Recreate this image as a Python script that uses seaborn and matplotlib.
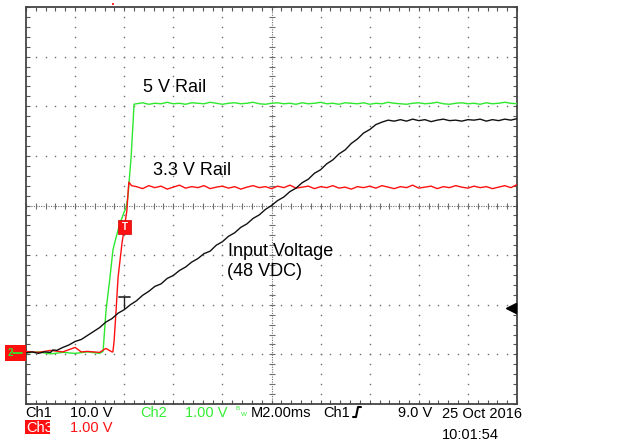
import numpy as np
import pandas as pd
import seaborn as sns
import matplotlib
matplotlib.use("Agg")
import matplotlib.pyplot as plt
from matplotlib.lines import Line2D
from matplotlib.patches import Rectangle

# ---------------- data (time in ms, values in volts) ----------------
FLAT_T = [-5.5, -5.25, -5.0, -4.75, -4.5, -4.25, -4.0, -3.75, -3.5,
          -3.25, -3.0, -2.75, -2.5, -2.25, -2.0, -1.75, -1.5, -1.25,
          -1.0, -0.75, -0.5, -0.25, 0.0, 0.25, 0.5, 0.75, 1.0,
          1.25, 1.5, 1.75, 2.0, 2.25, 2.5, 2.75, 3.0, 3.25,
          3.5, 3.75, 4.0, 4.25, 4.5, 4.75, 5.0, 5.25, 5.5,
          5.75, 6.0, 6.25, 6.5, 6.75, 7.0, 7.25, 7.5, 7.75,
          8.0, 8.25, 8.5, 8.75, 9.0, 9.25, 9.5, 9.75, 10.0]

# Ch2 (green, 5 V rail)
G_RISE_T = [-10.0, -9.5, -9.0, -8.5, -8.0, -7.5, -7.0, -6.86, -6.74, -6.58,
            -6.46, -6.33, -6.17, -6.01, -5.93, -5.85, -5.72, -5.64, -5.6]
G_RISE_V = [0.03, 0.05, 0.01, 0.04, 0.02, 0.05, 0.02, 0.06, 0.89, 1.55,
            2.10, 2.36, 2.64, 2.86, 2.94, 3.17, 3.97, 4.66, 5.04]
G_FLAT_V = [5.05, 5.07, 5.04, 5.06, 5.05, 5.08, 5.05, 5.06, 5.04,
            5.07, 5.06, 5.05, 5.08, 5.06, 5.04, 5.06, 5.07, 5.05,
            5.06, 5.08, 5.05, 5.04, 5.06, 5.07, 5.05, 5.06, 5.04,
            5.07, 5.05, 5.06, 5.08, 5.05, 5.06, 5.04, 5.07, 5.06,
            5.05, 5.07, 5.04, 5.06, 5.05, 5.08, 5.06, 5.05, 5.04,
            5.06, 5.07, 5.05, 5.06, 5.08, 5.05, 5.04, 5.06, 5.07,
            5.05, 5.06, 5.04, 5.07, 5.05, 5.06, 5.08, 5.06, 5.05]

# Ch3 (red, 3.3 V rail)
R_RISE_T = [-10.0, -9.5, -9.0, -8.5, -8.0, -7.75, -7.5, -7.0, -6.75, -6.5,
            -6.46, -6.41, -6.33, -6.25, -6.09, -5.89, -5.85, -5.81, -5.7]
R_RISE_V = [0.06, 0.04, 0.08, 0.05, 0.14, 0.05, 0.06, 0.04, 0.12, 0.05,
            0.05, 0.28, 0.89, 1.55, 2.24, 2.90, 3.21, 3.47, 3.40]
R_FLAT_V = [3.38, 3.34, 3.40, 3.36, 3.39, 3.33, 3.37, 3.41, 3.35,
            3.38, 3.36, 3.40, 3.34, 3.37, 3.39, 3.35, 3.38, 3.33,
            3.37, 3.40, 3.36, 3.38, 3.34, 3.39, 3.36, 3.41, 3.35,
            3.37, 3.39, 3.34, 3.38, 3.36, 3.40, 3.35, 3.37, 3.33,
            3.38, 3.36, 3.39, 3.35, 3.40, 3.37, 3.34, 3.38, 3.36,
            3.41, 3.35, 3.37, 3.39, 3.34, 3.38, 3.36, 3.40, 3.37,
            3.35, 3.39, 3.36, 3.38, 3.34, 3.37, 3.40, 3.36, 3.42]

# Ch1 (black, input voltage)
B_T = [-10.0, -9.75, -9.5, -9.25, -9.0, -8.9, -8.75, -8.5, -8.25, -8.0,
       -7.75, -7.5, -7.25, -7.0, -6.75, -6.5, -6.25, -6.0, -5.75, -5.5,
       -5.25, -5.0, -4.75, -4.5, -4.25, -4.0, -3.75, -3.5, -3.25, -3.0,
       -2.75, -2.5, -2.25, -2.0, -1.75, -1.5, -1.25, -1.0, -0.75, -0.5,
       -0.25, 0.0, 0.25, 0.5, 0.75, 1.0, 1.25, 1.5, 1.75, 2.0,
       2.25, 2.5, 2.75, 3.0, 3.25, 3.5, 3.75, 4.0, 4.25, 4.5,
       4.75, 5.0, 5.25, 5.5, 5.75, 6.0, 6.25, 6.5, 6.75, 7.0,
       7.25, 7.5, 7.75, 8.0, 8.25, 8.5, 8.75, 9.0, 9.25, 9.5,
       9.75, 10.0]
B_V = [0.3, 0.5, 0.2, 0.5, 0.4, 0.9, 0.8, 1.4, 1.9, 2.6,
       3.0, 3.8, 4.6, 5.4, 6.5, 7.2, 8.3, 9.0, 10.0, 10.8,
       11.9, 12.7, 13.7, 14.2, 15.3, 15.9, 16.9, 17.6, 18.6, 19.3,
       20.3, 20.8, 22.0, 22.7, 23.8, 24.5, 25.6, 26.3, 27.4, 28.1,
       29.2, 30.0, 31.0, 31.7, 32.8, 33.5, 34.6, 35.3, 36.5, 37.2,
       38.4, 39.2, 40.4, 41.2, 42.5, 43.4, 44.6, 45.3, 46.3, 46.8,
       47.2, 47.0, 47.3, 47.0, 47.4, 47.1, 47.3, 46.9, 47.2, 47.4,
       47.1, 47.2, 47.0, 47.3, 47.2, 47.4, 47.0, 47.3, 47.1, 47.4,
       47.2, 47.5]

TIME_PER_DIV = 2.0            # ms/div
SCALES = {"Ch1": 10.0, "Ch2": 1.0, "Ch3": 1.0}   # V/div
GROUND_DIV = -3.0
TRIG_LEVEL = 9.0              # V on Ch1
TRIG_MARK_T = -6.0            # ms

CH_COLORS = {"Ch1": "#111111", "Ch2": "#2ee82e", "Ch3": "#ff1010"}

# ---------------- build long table ----------------
rows = []
def add(ch, ts, vs):
    assert len(ts) == len(vs)
    for t, v in zip(ts, vs):
        rows.append({"ch": ch, "x": t / TIME_PER_DIV, "y": v / SCALES[ch] + GROUND_DIV})

add("Ch2", G_RISE_T + FLAT_T, G_RISE_V + G_FLAT_V)
add("Ch3", R_RISE_T + FLAT_T, R_RISE_V + R_FLAT_V)
add("Ch1", B_T, B_V)
df = pd.DataFrame(rows)

# ---------------- figure ----------------
sns.set_theme(style="white")
plt.rcParams["font.family"] = ["Liberation Sans", "DejaVu Sans"]

W, H = 621, 441
fig = plt.figure(figsize=(W / 100, H / 100), dpi=100)
fig.patch.set_facecolor("white")
ax = fig.add_axes([26 / W, (H - 404) / H, 491 / W, 397 / H])
ax.set_facecolor("white")

GRID = "#6e6e6e"
# dotted graticule
minor_x = np.round(np.arange(-5, 5.0001, 0.2), 3)
minor_y = np.round(np.arange(-4, 4.0001, 0.2), 3)
for xv in range(-4, 5):
    if xv == 0:
        continue
    ax.plot(np.full_like(minor_y, xv), minor_y, ls="none", marker="s", ms=1.0,
            mew=0, color=GRID, zorder=1)
for yv in range(-3, 4):
    if yv == 0:
        continue
    ax.plot(minor_x, np.full_like(minor_x, yv), ls="none", marker="s", ms=1.0,
            mew=0, color=GRID, zorder=1)
# centre cross with ticks
ax.plot([-5, 5], [0, 0], ls=(0, (1, 1.2)), lw=0.8, color=GRID, zorder=1)
ax.plot([0, 0], [-4, 4], ls=(0, (1, 1.2)), lw=0.8, color=GRID, zorder=1)
ax.plot(minor_x, np.zeros_like(minor_x), ls="none", marker="|", ms=4, mew=0.8,
        color=GRID, zorder=1)
ax.plot(np.zeros_like(minor_y), minor_y, ls="none", marker="_", ms=4, mew=0.8,
        color=GRID, zorder=1)

# traces
sns.lineplot(data=df, x="x", y="y", hue="ch", hue_order=["Ch2", "Ch3", "Ch1"],
             palette=CH_COLORS, estimator=None, sort=False, legend=False,
             linewidth=1.0, ax=ax, zorder=3)

ax.set_xlim(-5, 5)
ax.set_ylim(-4, 4)
ax.set_xlabel("")
ax.set_ylabel("")
ax.set_xticks(minor_x)
ax.set_yticks(minor_y)
ax.tick_params(direction="in", length=3, width=0.8, color="#555555",
               bottom=True, top=True, left=True, right=True,
               labelbottom=False, labelleft=False)
for s in ax.spines.values():
    s.set_color("#444444")
    s.set_linewidth(1.3)

# trigger marker "I" on Ch1 and trigger level arrow
trig_y = TRIG_LEVEL / SCALES["Ch1"] + GROUND_DIV
tx = TRIG_MARK_T / TIME_PER_DIV
ax.plot([tx, tx], [trig_y + 0.03, trig_y + 0.25], color="#222222", lw=1.0, zorder=4)
ax.plot([tx - 0.11, tx + 0.11], [trig_y + 0.25, trig_y + 0.25], color="#222222", lw=1.2, zorder=4)
ax.plot([4.87], [trig_y + 0.03], marker="<", ms=7, color="black", clip_on=False, zorder=5)

# Ch3 marker box on red trace
ax.add_patch(Rectangle((-3.13, -0.57), 0.27, 0.27, facecolor="#ff1010",
                       edgecolor="#cc0000", lw=0.5, zorder=5))
ax.text(-2.995, -0.44, "T", color="white", fontsize=7, ha="center", va="center",
        fontweight="bold", zorder=6)
# small red dot on top
ax.plot([-3.23], [4.06], marker="s", ms=1.5, color="#ff3030", mew=0, clip_on=False)

# ground markers on the left
def px(x, y):
    return x / W, 1 - y / H

fig.patches.append(Rectangle(px(5, 361), 21 / W, 16 / H, facecolor="#ff1010",
                             edgecolor="none", transform=fig.transFigure, figure=fig))
fig.text(*px(8, 353), "2", color="#2ee82e", fontsize=7, fontweight="bold", va="center")
fig.lines.append(Line2D([13 / W, 22 / W], [1 - 353 / H, 1 - 353 / H], color="#2ee82e",
                        lw=1.3, transform=fig.transFigure, figure=fig))

# annotations
ann_kw = dict(fontsize=13, color="black", va="baseline", ha="left")
fig.text(*px(143, 92), "5 V Rail", **ann_kw)
fig.text(*px(153, 175), "3.3 V Rail", **ann_kw)
fig.text(*px(228, 256), "Input Voltage", **ann_kw)
fig.text(*px(227, 276), "(48 VDC)", **ann_kw)

# status line
sk = dict(fontsize=10.5, va="baseline", ha="left")
GREEN_TXT = "#33ee33"
fig.text(*px(25, 417), "Ch1", color="black", **sk)
fig.text(*px(70, 417), "10.0 V", color="black", **sk)
fig.text(*px(140, 417), "Ch2", color=GREEN_TXT, **sk)
fig.text(*px(185, 417), "1.00 V", color=GREEN_TXT, **sk)
fig.text(*px(235, 410), "B", color=GREEN_TXT, fontsize=4.5, va="baseline")
fig.text(*px(241, 416), "W", color=GREEN_TXT, fontsize=4.5, va="baseline")
fig.text(*px(251, 417), "M2.00ms", color="black", **sk)
fig.text(*px(323, 417), "Ch1", color="black", **sk)
fig.lines.append(Line2D([353 / W, 356 / W, 358 / W, 361 / W],
                        [1 - 417 / H, 1 - 417 / H, 1 - 407 / H, 1 - 407 / H],
                        color="black", lw=1.5, transform=fig.transFigure, figure=fig))
fig.text(*px(398, 417), "9.0 V", color="black", **sk)
fig.text(*px(442, 418), "25 Oct 2016", color="black", **sk)
fig.text(*px(442, 439), "10:01:54", color="black", **sk)

fig.patches.append(Rectangle(px(25, 434), 25 / W, 14 / H, facecolor="#ff1010",
                             edgecolor="none", transform=fig.transFigure, figure=fig))
fig.text(*px(26, 432), "Ch3", color="white", **sk)
fig.text(*px(70, 432), "1.00 V", color="#ff1010", **sk)

fig.savefig("out.png", dpi=100, facecolor="white")
